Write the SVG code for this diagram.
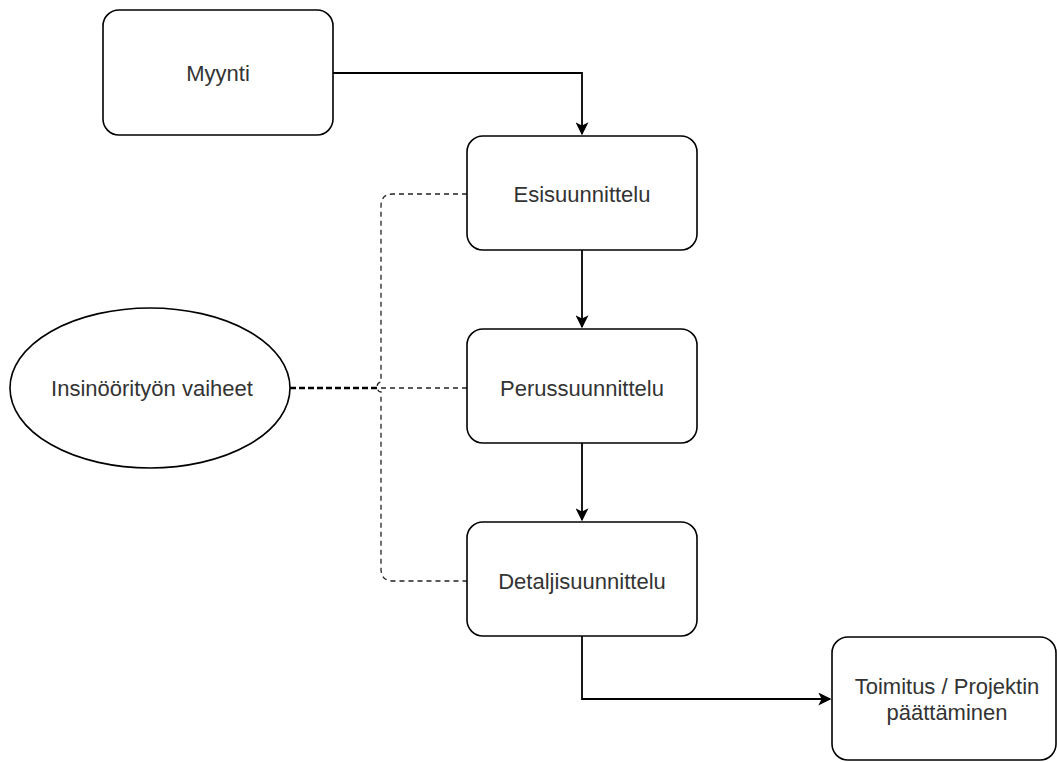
<svg xmlns="http://www.w3.org/2000/svg" width="1057" height="762" viewBox="0 0 1057 762">
<style>
.box{fill:#fff;stroke:#000;stroke-width:1.6}
.lbl{font-family:"Liberation Sans",Arial,sans-serif;font-size:22px;fill:#333;text-anchor:middle;dominant-baseline:central}
.edge{fill:none;stroke:#000;stroke-width:1.8}
.dash{fill:none;stroke:#222;stroke-width:1.3;stroke-dasharray:5 4}
.dashb{fill:none;stroke:#000;stroke-width:2.5;stroke-dasharray:6 3}
</style>
<defs>
<marker id="ah" viewBox="0 0 10 10" refX="9" refY="5" markerWidth="13" markerHeight="13" markerUnits="userSpaceOnUse" orient="auto">
<path d="M0,0 L10,5 L0,10 L2.5,5 Z" fill="#000"/>
</marker>
</defs>
<rect width="1057" height="762" fill="#fff"/>
<g id="connectors">
<path class="edge" d="M333,73 H582 V134" marker-end="url(#ah)"/>
<path class="edge" d="M582,250 V327" marker-end="url(#ah)"/>
<path class="edge" d="M582,443 V520" marker-end="url(#ah)"/>
<path class="edge" d="M582,636 V699 H830" marker-end="url(#ah)"/>
<path class="dash" d="M467,194 H393 Q381,194 381,206 V382 A4,5 0 0 0 381,392 V569 Q381,581 393,581 H467"/>
<path class="dash" d="M381,388 H467"/>
<path class="dashb" d="M290,388 H377"/>
</g>
<g id="myynti"><rect class="box" x="103" y="10" width="230" height="125" rx="16"/><text class="lbl" x="218" y="73">Myynti</text></g>
<g id="esisuunnittelu"><rect class="box" x="467" y="136" width="230" height="114" rx="16"/><text class="lbl" x="582" y="194">Esisuunnittelu</text></g>
<g id="perussuunnittelu"><rect class="box" x="467" y="329" width="230" height="114" rx="16"/><text class="lbl" x="582" y="388">Perussuunnittelu</text></g>
<g id="detaljisuunnittelu"><rect class="box" x="467" y="522" width="230" height="114" rx="16"/><text class="lbl" x="582" y="581">Detaljisuunnittelu</text></g>
<g id="toimitus"><rect class="box" x="832" y="637" width="224" height="123" rx="16"/><text class="lbl" x="947" y="686">Toimitus / Projektin</text><text class="lbl" x="947" y="712">päättäminen</text></g>
<g id="insinoorityo"><ellipse class="box" cx="150" cy="388" rx="140" ry="80"/><text class="lbl" x="152" y="388">Insinöörityön vaiheet</text></g>
</svg>
